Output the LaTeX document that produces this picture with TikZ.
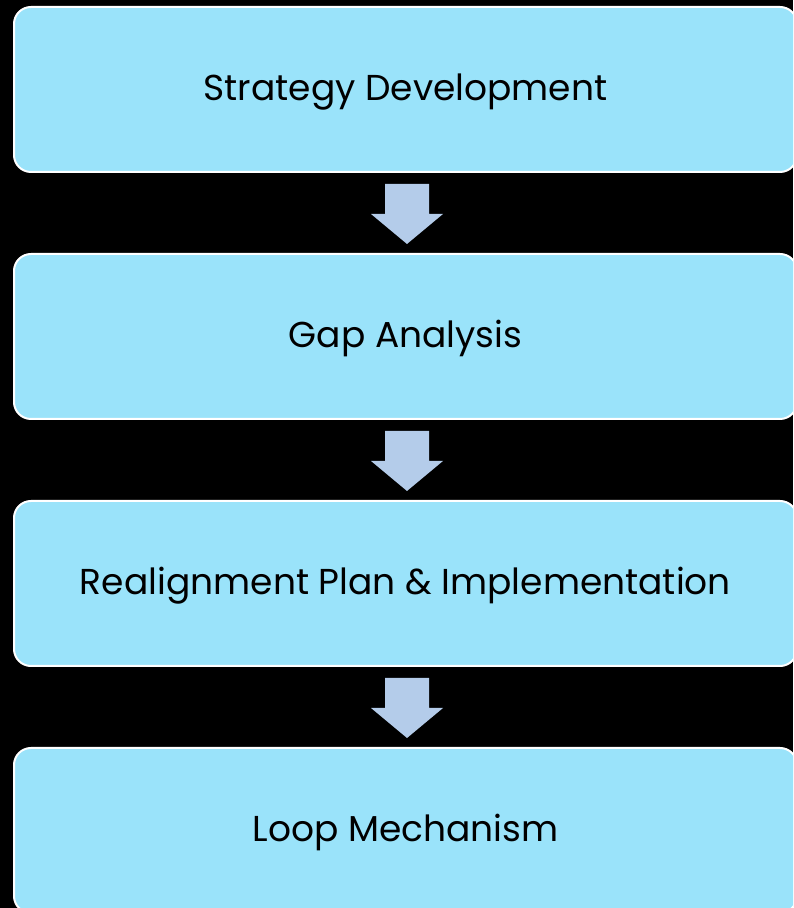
\documentclass[tikz,border=0pt]{standalone}
\usepackage{fontspec}
\setmainfont{Poppins}
\definecolor{boxfill}{HTML}{9AE3FA}
\definecolor{arrowfill}{HTML}{B4CCEA}
\begin{document}
\begin{tikzpicture}[x=1pt,y=1pt,
  stage/.style={draw=white, line width=2pt, fill=boxfill, rounded corners=17pt,
    minimum width=783pt, minimum height=165pt, inner sep=0pt,
    text height=26pt, text depth=3pt,
    font=\fontsize{36}{42}\selectfont, text=black},
  flowarrow/.style={fill=arrowfill, draw=none}]
\fill[black] (0,0) rectangle (793,908);
\useasboundingbox (0,0) rectangle (793,908);
\begin{scope}
\clip (0,0) rectangle (793,908);
\node[stage] (s1) at (405.5,818.5) {Strategy Development};
\node[stage] (s2) at (405.5,571.5) {Gap Analysis};
\node[stage] (s3) at (405.5,324.5) {Realignment Plan \& Implementation};
\node[stage] (s4) at (405.5,77.5) {Loop Mechanism};
\end{scope}
\foreach \a/\b in {s1/s2,s2/s3,s3/s4}{
  \path (\a.south) ++(1.5,-11) coordinate (t);
  \fill[flowarrow] (t) ++(-22,0) -- ++(44,0) -- ++(0,-30) -- ++(14,0) -- ++(-36,-30) -- ++(-36,30) -- ++(14,0) -- cycle;
}
\end{tikzpicture}
\end{document}
